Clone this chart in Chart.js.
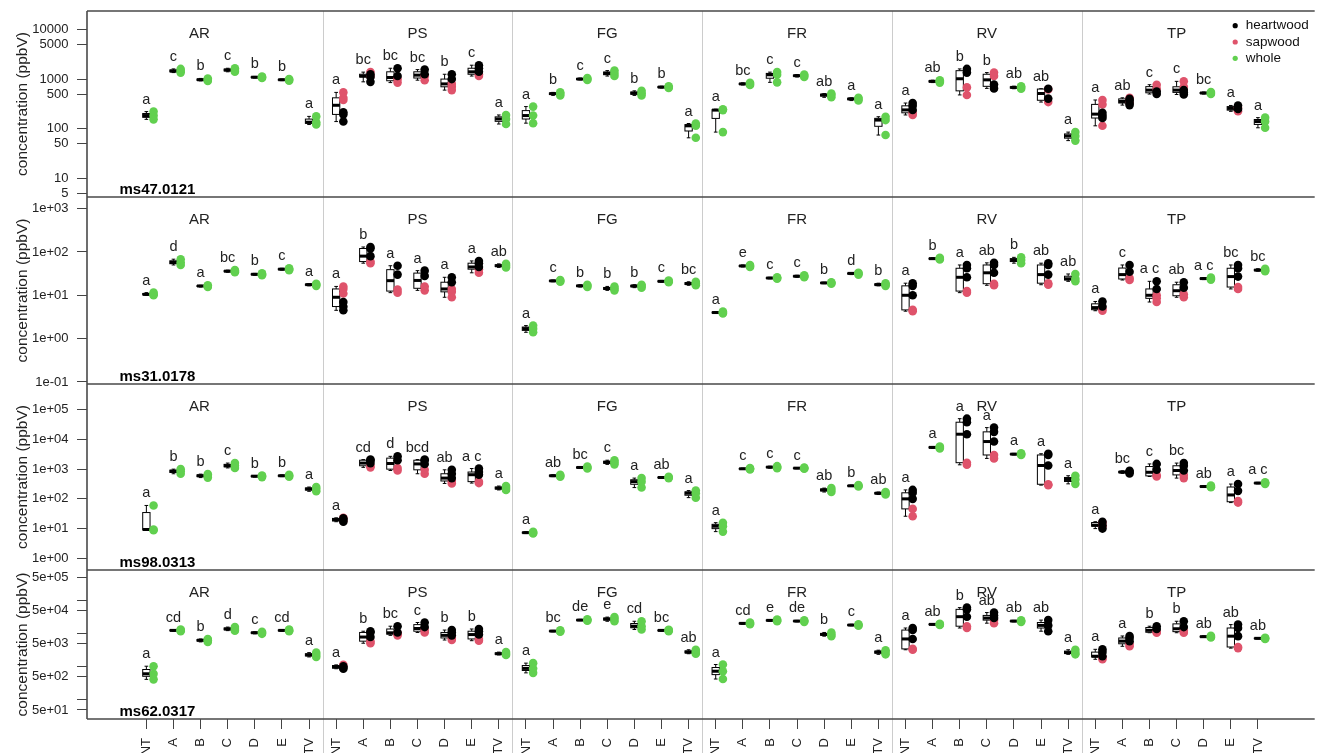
<!DOCTYPE html>
<html>
<head>
<meta charset="utf-8">
<script src="https://cdn.jsdelivr.net/npm/chart.js@4/dist/chart.umd.min.js"></script>
<style>
  html, body { margin: 0; padding: 0; background: #ffffff; }
  #wrap { position: relative; width: 1317px; height: 753px; overflow: hidden; background: #ffffff; }
  #wrap canvas { position: absolute; left: 0; top: 0; }
</style>
</head>
<body>
<div id="wrap">
  <canvas id="row0" width="1317" height="753"></canvas>
  <canvas id="row1" width="1317" height="753"></canvas>
  <canvas id="row2" width="1317" height="753"></canvas>
  <canvas id="row3" width="1317" height="753"></canvas>
</div>
<script>
// ---- categories ----
const groups = ['AR', 'PS', 'FG', 'FR', 'RV', 'TP'];
const treatments = ['NT', 'A', 'B', 'C', 'D', 'E', 'TV'];
const compounds = ['ms47.0121', 'ms31.0178', 'ms98.0313', 'ms62.0317'];
const tissues = ['heartwood', 'sapwood', 'whole'];

// ---- ms47.0121 (ppbV), one entry per group x treatment ----
const heart47 = [
  [], [], [], [], [], [], [],
  [140, 195, 215], [880, 1100, 1250], [1150, 1650], [1250, 1550], [1000, 1250], [1400, 1650, 1900], [],
  [], [], [], [], [], [], [],
  [], [], [], [], [], [], [],
  [240, 290, 330], [], [1350, 1600], [650, 780], [], [405, 640], [],
  [165, 185, 210], [300, 330, 370, 400], [500, 560], [490, 540, 600], [], [250, 295], []
];
const sap47 = [
  [], [], [], [], [], [], [],
  [380, 420, 540], [1150, 1380], [850, 1000], [950, 1150], [600, 700, 800], [1150, 1250], [],
  [], [], [], [], [], [], [],
  [], [], [], [], [], [], [],
  [190, 210], [], [480, 680], [1150, 1350], [], [345, 620], [],
  [115, 310, 380], [340, 420], [640, 770], [700, 900], [], [225, 265], []
];
const whole47 = [
  [155, 185, 222], [1350, 1450, 1600], [920, 970, 1030], [1400, 1520, 1650], [1050, 1090, 1130], [930, 970, 1000], [122, 136, 178],
  [], [], [], [], [], [], [125, 158, 190],
  [130, 185, 280], [470, 510, 540], [960, 1000, 1050], [1150, 1300, 1480], [470, 520, 580], [660, 690, 720], [66, 115, 128],
  [86, 238, 248], [760, 800, 840], [860, 1220, 1380], [1100, 1170, 1230], [430, 480, 510], [370, 400, 420], [75, 150, 175],
  [], [850, 900, 950], [], [], [640, 680, 720], [], [58, 72, 86],
  [], [], [], [], [500, 525, 550], [], [105, 140, 168]
];
const letters47 = [
  'a', 'c', 'b', 'c', 'b', 'b', 'a',
  'a', 'bc', 'bc', 'bc', 'b', 'c', 'a',
  'a', 'b', 'c', 'c', 'b', 'b', 'a',
  'a', 'bc', 'c', 'c', 'ab', 'a', 'a',
  'a', 'ab', 'b', 'b', 'ab', 'ab', 'a',
  'a', 'ab', 'c', 'c', 'bc', 'a', 'a'
];
const ticks47 = [5, 10, 50, 100, 500, 1000, 5000, 10000];
const tickLabels47 = ['5', '10', '50', '100', '500', '1000', '5000', '10000'];

// ---- ms31.0178 ----
const heart31 = [
  [], [], [], [], [], [], [],
  [4.5, 5.5, 7], [80, 120, 130], [30, 48], [28, 37], [20, 26], [45, 55, 62], [],
  [], [], [], [], [], [], [],
  [], [], [], [], [], [], [],
  [10, 16.5, 19], [], [26, 42, 50], [33, 50, 56], [], [30, 50, 55], [],
  [5.5, 7.2], [35, 50], [14, 21], [15, 20], [], [27, 42, 50], []
];
const sap31 = [
  [], [], [], [], [], [], [],
  [11, 14, 16], [55, 60], [11.5, 13.5], [13, 16], [9, 12, 14], [33, 40], [],
  [], [], [], [], [], [], [],
  [], [], [], [], [], [], [],
  [4.3, 4.6], [], [11.5, 12.5], [17, 18.5], [], [17.5, 19], [],
  [4.4, 4.9], [22.5, 25], [7, 8.5, 10], [9, 10.5], [], [14, 15.5], []
];
const whole31 = [
  [10, 10.5, 11.5], [50, 57, 68], [15.5, 16.4, 17], [34, 36, 38], [29, 30.5, 32], [38, 40, 42], [16.5, 17.6, 18.5],
  [], [], [], [], [], [], [44, 48, 53],
  [1.4, 1.7, 2.0], [20.5, 21.5, 22.5], [15.5, 16.5, 17.5], [13, 14.3, 16], [15, 16.4, 17.5], [20, 21, 22], [17, 18.6, 20.5],
  [3.8, 4.0, 4.2], [45, 47.5, 50], [24, 25, 26], [26, 27.5, 29], [18.5, 19.3, 20], [30, 32, 33], [16.5, 17.6, 19],
  [], [67, 70, 73], [], [], [55, 65, 75], [], [21, 24, 31],
  [], [], [], [], [23, 24.3, 25.5], [], [36, 38, 41]
];
const letters31 = [
  'a', 'd', 'a', 'bc', 'b', 'c', 'a',
  'a', 'b', 'a', 'a', 'a', 'a', 'ab',
  'a', 'c', 'b', 'b', 'b', 'c', 'bc',
  'a', 'e', 'c', 'c', 'b', 'd', 'b',
  'a', 'b', 'a', 'ab', 'b', 'ab', 'ab',
  'a', 'c', 'a c', 'ab', 'a c', 'bc', 'bc'
];
const ticks31 = [0.1, 1, 10, 100, 1000];
const tickLabels31 = ['1e-01', '1e+00', '1e+01', '1e+02', '1e+03'];

// ---- ms98.0313 ----
const heart98 = [
  [], [], [], [], [], [], [],
  [17, 20, 22], [1600, 2000, 2100], [2000, 2700], [1500, 2000, 2100], [500, 700, 950], [650, 800, 1050], [],
  [], [], [], [], [], [], [],
  [], [], [], [], [], [], [],
  [100, 160, 200], [], [15000, 38000, 50000], [8500, 18000, 25000], [], [1330, 3000, 3300], [],
  [10, 13, 17], [720, 800, 880], [950, 1500], [900, 1300, 1600], [], [186, 315], []
];
const sap98 = [
  [], [], [], [], [], [], [],
  [18, 23], [1150, 1300], [900, 1100], [700, 950], [330, 400], [340, 380], [],
  [], [], [], [], [], [], [],
  [], [], [], [], [], [], [],
  [26, 46], [], [1400, 1650], [2300, 3000], [], [290, 310], [],
  [12, 16], [], [566, 620], [500, 640], [], [75, 85], []
];
const whole98 = [
  [8.8, 9.3, 60], [700, 850, 1000], [520, 600, 680], [1100, 1300, 1600], [540, 580, 610], [560, 600, 640], [180, 215, 250],
  [], [], [], [], [], [], [200, 230, 270],
  [6.8, 7.3, 7.8], [560, 600, 650], [1050, 1140, 1220], [1450, 1700, 2000], [240, 380, 500], [500, 525, 550], [110, 155, 190],
  [7.9, 12, 15.8], [980, 1030, 1080], [1080, 1170, 1260], [1030, 1080, 1130], [170, 200, 230], [260, 275, 290], [140, 155, 170],
  [], [5000, 5400, 5800], [], [], [3000, 3200, 3400], [], [320, 450, 600],
  [], [], [], [], [245, 260, 280], [], [320, 340, 360]
];
const letters98 = [
  'a', 'b', 'b', 'c', 'b', 'b', 'a',
  'a', 'cd', 'd', 'bcd', 'ab', 'a c', 'a',
  'a', 'ab', 'bc', 'c', 'a', 'ab', 'a',
  'a', 'c', 'c', 'c', 'ab', 'b', 'ab',
  'a', 'a', 'a', 'a', 'a', 'a', 'a',
  'a', 'bc', 'c', 'bc', 'ab', 'a', 'a c'
];
const ticks98 = [1, 10, 100, 1000, 10000, 100000];
const tickLabels98 = ['1e+00', '1e+01', '1e+02', '1e+03', '1e+04', '1e+05'];

// ---- ms62.0317 ----
const heart62 = [
  [], [], [], [], [], [], [],
  [880, 950, 1050], [8000, 11000, 12000], [11000, 17000], [16000, 22000], [9000, 11000, 13000], [9500, 12000, 14000], [],
  [], [], [], [], [], [], [],
  [], [], [], [], [], [], [],
  [7000, 13000, 15000], [], [33000, 55000, 62000], [30000, 36000, 44000], [], [12000, 18000, 26000], [],
  [2100, 2800, 3400], [6000, 7500, 8600], [14000, 17000], [16000, 24000], [], [8500, 15000, 19000], []
];
const sap62 = [
  [], [], [], [], [], [], [],
  [1150], [5200, 6000], [9000, 10500], [11000, 13000], [6500, 7500], [6200, 7000], [],
  [], [], [], [], [], [], [],
  [], [], [], [], [], [], [],
  [3300, 3500], [], [15000, 17000], [21000, 26000], [], [], [],
  [1700, 2000], [4200, 5000], [10800, 11500], [10800, 12500], [], [3700, 4000], []
];
const whole62 = [
  [420, 620, 1050], [12000, 12700, 13500], [5700, 6400, 7000], [12500, 14000, 16000], [10000, 10800, 11500], [12000, 12700, 13400], [2000, 2300, 2700],
  [], [], [], [], [], [], [2300, 2500, 2800],
  [660, 900, 1300], [11500, 12100, 12700], [25000, 26000, 27500], [24000, 28000, 32000], [13500, 17000, 24000], [12000, 12700, 13300], [2500, 2800, 3300],
  [430, 740, 1180], [19500, 20700, 22000], [24000, 25500, 27000], [23000, 24300, 25500], [8500, 9600, 11000], [17500, 18400, 19500], [2400, 2800, 3200],
  [], [18500, 19300, 20200], [], [], [23000, 24300, 25500], [], [2400, 2700, 3300],
  [], [], [], [], [7800, 8200, 8700], [], [7000, 7300, 7600]
];
const letters62 = [
  'a', 'cd', 'b', 'd', 'c', 'cd', 'a',
  'a', 'b', 'bc', 'c', 'b', 'b', 'a',
  'a', 'bc', 'de', 'e', 'cd', 'bc', 'ab',
  'a', 'cd', 'e', 'de', 'b', 'c', 'a',
  'a', 'ab', 'b', 'ab', 'ab', 'ab', 'a',
  'a', 'a', 'b', 'b', 'ab', 'ab', 'ab'
];
const ticks62 = [50, 100, 500, 1000, 5000, 10000, 50000, 100000, 500000];
const tickLabels62 = ['5e+01', '', '5e+02', '', '5e+03', '', '5e+04', '', '5e+05'];

// ---- axis limits (ppbV) ----
const yLimits47 = [4.27, 23330];
const yLimits31 = [0.0899, 1849];
const yLimits98 = [0.4036, 734500];
const yLimits62 = [26.6, 851000];

// ---- layout & style ----
const FONT = "'Liberation Sans', Arial, Helvetica, sans-serif";
const TISSUE_COLORS = ['#000000', '#DF536B', '#61D04F'];
const X_MIN = -2.19, X_MAX = 43.02;
const POINT_SHIFT = 0.265;
const BOX_HALF = 0.135;
const AXIS_WIDTH = 87;
const ROW_AREAS = [[11, 197], [197, 384], [384, 570], [570, 719]];
const CANVAS_H = 753;

const rowSpecs = [
  { name: compounds[0], series: [heart47, sap47, whole47], letters: letters47, ticks: ticks47, tickLabels: tickLabels47, lim: yLimits47 },
  { name: compounds[1], series: [heart31, sap31, whole31], letters: letters31, ticks: ticks31, tickLabels: tickLabels31, lim: yLimits31 },
  { name: compounds[2], series: [heart98, sap98, whole98], letters: letters98, ticks: ticks98, tickLabels: tickLabels98, lim: yLimits98 },
  { name: compounds[3], series: [heart62, sap62, whole62], letters: letters62, ticks: ticks62, tickLabels: tickLabels62, lim: yLimits62 }
];

const categoryIndex = [];
groups.forEach((g, gi) => treatments.forEach((t, ti) => categoryIndex.push(gi * treatments.length + ti)));

// Tukey five-number summary (same hinges as R's boxplot)
function fivenum(vals) {
  const s = vals.slice().sort((a, b) => a - b);
  const n = s.length;
  const n4 = Math.floor((n + 3) / 2) / 2;
  const d = [1, n4, (n + 1) / 2, n + 1 - n4, n];
  return d.map(di => 0.5 * (s[Math.floor(di) - 1] + s[Math.ceil(di) - 1]));
}

function pooled(spec, i) {
  return spec.series[0][i].concat(spec.series[1][i], spec.series[2][i]);
}

function pointsOf(arr) {
  const pts = [];
  arr.forEach((vals, i) => vals.forEach(v => pts.push({ x: i + POINT_SHIFT, y: v })));
  return pts;
}

const panelPlugin = {
  id: 'panels',
  beforeDatasetsDraw(chart, args, opts) {
    const { ctx, chartArea: a, scales: { x, y } } = chart;
    const spec = opts.spec;
    ctx.save();
    // group separators
    ctx.strokeStyle = '#cccccc';
    ctx.lineWidth = 1;
    for (let g = 1; g < groups.length; g++) {
      const px = Math.round(x.getPixelForValue(g * treatments.length - 0.5)) + 0.5;
      ctx.beginPath();
      ctx.moveTo(px, a.top);
      ctx.lineTo(px, opts.last ? chart.height : a.bottom);
      ctx.stroke();
    }
    // box plots of all samples per treatment
    categoryIndex.forEach(i => {
      const vals = pooled(spec, i);
      if (!vals.length) return;
      const [mn, q1, md, q3, mx] = fivenum(vals);
      const cx = x.getPixelForValue(i);
      const hw = x.getPixelForValue(i + BOX_HALF) - cx;
      const pMin = y.getPixelForValue(mn), pQ1 = y.getPixelForValue(q1), pMd = y.getPixelForValue(md);
      const pQ3 = y.getPixelForValue(q3), pMax = y.getPixelForValue(mx);
      ctx.strokeStyle = '#000000';
      ctx.lineWidth = 1;
      ctx.beginPath();
      ctx.moveTo(cx, pMax); ctx.lineTo(cx, pQ3);
      ctx.moveTo(cx, pQ1); ctx.lineTo(cx, pMin);
      ctx.moveTo(cx - hw / 2, pMax); ctx.lineTo(cx + hw / 2, pMax);
      ctx.moveTo(cx - hw / 2, pMin); ctx.lineTo(cx + hw / 2, pMin);
      ctx.stroke();
      ctx.fillStyle = '#ffffff';
      ctx.fillRect(cx - hw, pQ3, hw * 2, pQ1 - pQ3);
      ctx.strokeRect(cx - hw, pQ3, hw * 2, pQ1 - pQ3);
      ctx.lineWidth = 3;
      ctx.beginPath();
      ctx.moveTo(cx - hw, pMd); ctx.lineTo(cx + hw, pMd);
      ctx.stroke();
    });
    ctx.restore();
  },
  afterDatasetsDraw(chart, args, opts) {
    const { ctx, chartArea: a, scales: { x, y } } = chart;
    const spec = opts.spec;
    ctx.save();
    // significance letters above each treatment
    ctx.fillStyle = '#222222';
    ctx.font = '14.5px ' + FONT;
    ctx.textAlign = 'center';
    ctx.textBaseline = 'alphabetic';
    categoryIndex.forEach(i => {
      const vals = pooled(spec, i);
      if (!vals.length) return;
      const top = Math.max(...vals);
      ctx.fillText(spec.letters[i], x.getPixelForValue(i), y.getPixelForValue(top) - 8);
    });
    // group names
    ctx.font = '15px ' + FONT;
    ctx.textBaseline = 'middle';
    groups.forEach((g, gi) => {
      const xc = gi === 0 ? (X_MIN + 6.5) / 2 - 0.2 : gi * treatments.length + 3;
      ctx.fillText(g, x.getPixelForValue(xc), a.top + 22.5);
    });
    // compound name
    ctx.fillStyle = '#000000';
    ctx.font = 'bold 15px ' + FONT;
    ctx.textAlign = 'left';
    ctx.textBaseline = 'alphabetic';
    ctx.fillText(spec.name, a.left + 32.5, a.bottom - 3.5);
    // frame
    ctx.strokeStyle = '#4a4a4a';
    ctx.lineWidth = 1.6;
    ctx.beginPath();
    ctx.moveTo(a.left, a.top); ctx.lineTo(a.right + 2, a.top);
    ctx.moveTo(a.left, a.top); ctx.lineTo(a.left, a.bottom);
    if (opts.last) { ctx.moveTo(a.left, a.bottom); ctx.lineTo(a.right + 2, a.bottom); }
    ctx.stroke();
    // legend
    if (opts.legend) {
      ctx.font = '13.5px ' + FONT;
      ctx.textBaseline = 'middle';
      ctx.textAlign = 'left';
      chart.data.datasets.forEach((ds, k) => {
        const ly = a.top + 14.7 + k * 16.3;
        ctx.fillStyle = ds.backgroundColor;
        ctx.beginPath();
        ctx.arc(a.right - 77.5, ly, 2.6, 0, Math.PI * 2);
        ctx.fill();
        ctx.fillStyle = '#111111';
        ctx.fillText(ds.label, a.right - 67, ly);
      });
    }
    ctx.restore();
  }
};

rowSpecs.forEach((spec, r) => {
  const last = r === rowSpecs.length - 1;
  const area = ROW_AREAS[r];
  new Chart(document.getElementById('row' + r), {
    type: 'scatter',
    data: {
      datasets: tissues.map((t, k) => ({
        label: t,
        data: pointsOf(spec.series[k]),
        backgroundColor: TISSUE_COLORS[k],
        borderWidth: 0,
        pointRadius: 4.3,
        pointHoverRadius: 4.3
      }))
    },
    options: {
      responsive: false,
      animation: false,
      devicePixelRatio: 1,
      events: [],
      layout: { padding: { top: area[0], bottom: last ? 0 : CANVAS_H - area[1], left: 0, right: 0 } },
      plugins: {
        legend: { display: false },
        tooltip: { enabled: false },
        panels: { spec: spec, last: last, legend: r === 0 }
      },
      scales: {
        x: {
          type: 'linear',
          position: 'bottom',
          min: X_MIN,
          max: X_MAX,
          display: last,
          grid: { drawOnChartArea: false, drawTicks: true, tickLength: 10, color: '#444444' },
          border: { display: false },
          ticks: {
            autoSkip: false,
            minRotation: 90,
            maxRotation: 90,
            padding: 9,
            color: '#222222',
            font: { family: FONT, size: 13 },
            callback: v => treatments[Math.round(v) % treatments.length]
          },
          afterBuildTicks: s => { s.ticks = categoryIndex.map(v => ({ value: v })); },
          afterFit: s => {
            if (last) s.height = CANVAS_H - ROW_AREAS[3][1];
            s.paddingLeft = 0;
            s.paddingRight = 0;
          }
        },
        y: {
          type: 'logarithmic',
          position: 'left',
          min: spec.lim[0],
          max: spec.lim[1],
          grid: { drawOnChartArea: false, drawTicks: true, tickLength: 10, color: '#444444' },
          border: { display: false },
          ticks: {
            autoSkip: false,
            padding: 8.5,
            color: '#222222',
            font: { family: FONT, size: 13 },
            callback: v => {
              const k = spec.ticks.findIndex(t => Math.abs(t - v) / t < 1e-6);
              return k >= 0 ? spec.tickLabels[k] : '';
            }
          },
          title: {
            display: true,
            text: 'concentration (ppbV)',
            color: '#222222',
            font: { family: FONT, size: 15.5 },
            padding: { top: 13, bottom: 0 }
          },
          afterBuildTicks: s => { s.ticks = spec.ticks.map(v => ({ value: v })); },
          afterFit: s => { s.width = AXIS_WIDTH; s.paddingTop = 0; s.paddingBottom = 0; }
        }
      }
    },
    plugins: [panelPlugin]
  });
});
</script>
</body>
</html>
